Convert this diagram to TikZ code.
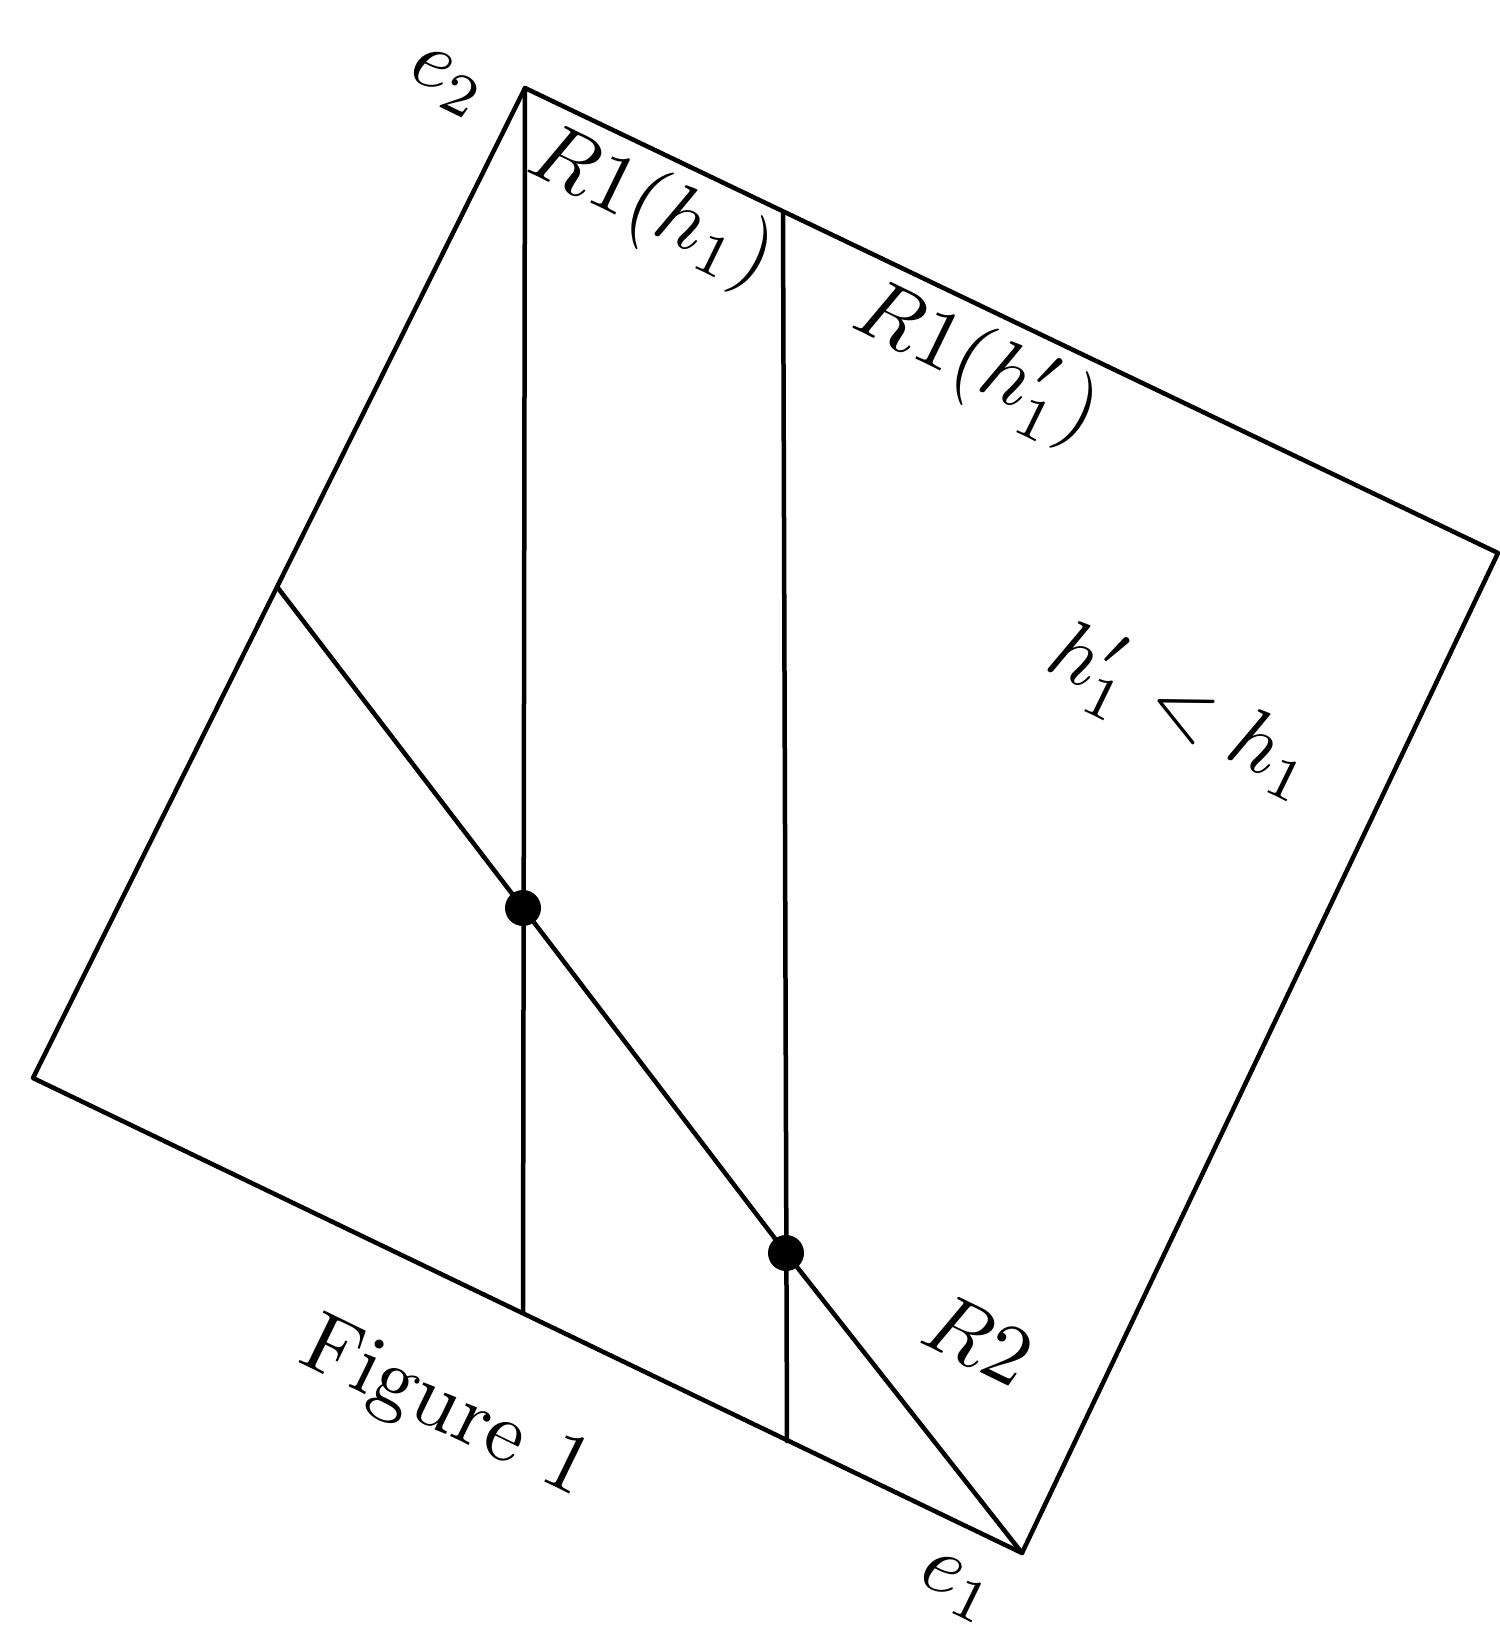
\documentclass[tikz,border=0pt]{standalone}
\begin{document}
\begin{tikzpicture}[x=1pt,y=-1pt,
  edge/.style={line width=4.5pt,line join=round,line cap=round},
  dotmark/.style={circle,fill=black,inner sep=0pt,minimum size=36pt},
  lab/.style={inner sep=0pt,rotate=-26,scale=8.5}]
\useasboundingbox (0,0) rectangle (1500,1634);
\coordinate (E2) at (525,88);
\coordinate (RC) at (1498,553);
\coordinate (E1) at (1022,1553);
\coordinate (LC) at (33,1078);
\coordinate (A) at (278,588);
\coordinate (B1) at (523,1313);
\coordinate (T2) at (783,213);
\coordinate (B2) at (787,1441);
\node[dotmark] (D1) at (523,908) {};
\node[dotmark] (D2) at (786,1253) {};
\draw[edge] (E2) -- (RC) -- (E1) -- (LC) -- cycle;
\draw[edge] (E2) -- (B1);
\draw[edge] (T2) -- (B2);
\draw[edge] (A) -- (D1.center) -- (D2.center) -- (E1);
\node[lab] (le2) at (447,83) {$e_2$};
\node[lab] (le1) at (957,1588) {$e_1$};
\node[lab] (lr1) at (651,209) {$R1(h_1)$};
\node[lab] (lr1p) at (976,365) {$R1(h'_1)$};
\node[lab] (lcmp) at (1182,712) {$h'_1<h_1$};
\node[lab] (lr2) at (979,1339) {$R2$};
\node[lab] (lfig) at (445,1411) {Figure 1};
\end{tikzpicture}
\end{document}
